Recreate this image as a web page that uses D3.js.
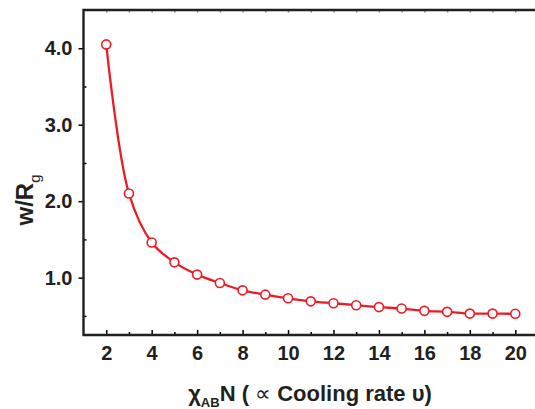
<!DOCTYPE html>
<html><head><meta charset="utf-8">
<script src="https://cdn.jsdelivr.net/npm/d3@7"></script>
<style>body{margin:0;background:#fff}svg{display:block}text{font-family:"Liberation Sans",Arial,sans-serif}</style>
</head><body>
<script>
const xValues = [2,3,4,5,6,7,8,9,10,11,12,13,14,15,16,17,18,19,20];
const yValues = [4.05,2.10,1.46,1.20,1.04,0.93,0.834,0.778,0.73,0.69,0.665,0.64,0.615,0.596,0.566,0.553,0.53,0.53,0.527];
const xMajorTicks = [2,4,6,8,10,12,14,16,18,20];
const xMinorTicks = [3,5,7,9,11,13,15,17,19];
const xTopTicks = [2,3,4,5,6,7,8,9,10,11,12,13,14,15,16,17,18,19,20];
const yMajorTicks = [1,2,3,4];
const yMinorTicks = [0.5,1.5,2.5,3.5];
const yTickLabels = ["1.0","2.0","3.0","4.0"];

const W = 535, H = 409;
const L = 83.5, R = 538, T = 10, B = 335;
const svg = d3.select("body").append("svg").attr("width", W).attr("height", H);
const x = d3.scaleLinear().domain([1,21]).range([L,R]);
const y = d3.scaleLinear().domain([0.25,4.5]).range([B,T]);
const red = "#ec1c24";
const ink = "#231f20";

// bottom axis major (inward) with labels
const gB = svg.append("g").attr("transform",`translate(0,${B})`)
  .call(d3.axisBottom(x).tickValues(xMajorTicks).tickSize(-5).tickPadding(11).tickFormat(d3.format("d")));
gB.selectAll("text").attr("font-size",20).attr("font-weight","bold").attr("fill",ink);
svg.append("g").attr("transform",`translate(0,${B})`)
  .call(d3.axisBottom(x).tickValues(xMinorTicks).tickSize(-3).tickFormat(""));
// top ticks
svg.append("g").attr("transform",`translate(0,${T})`)
  .call(d3.axisTop(x).tickValues(xTopTicks).tickSize(-2.5).tickFormat(""))
  .selectAll("line").attr("stroke","#888");
// left axis major outward
const gL = svg.append("g").attr("transform",`translate(${L},0)`)
  .call(d3.axisLeft(y).tickValues(yMajorTicks).tickSize(5).tickPadding(6).tickFormat((d,i)=>yTickLabels[i]));
gL.selectAll("text").attr("font-size",20).attr("font-weight","bold").attr("fill",ink);
svg.append("g").attr("transform",`translate(${L},0)`)
  .call(d3.axisRight(y).tickValues(yMinorTicks).tickSize(3).tickFormat(""));
svg.selectAll(".domain").remove();
svg.selectAll(".tick line").attr("stroke-width",1.5);

// frame lines
svg.append("path").attr("d",`M${R},${T}H${L}V${B}H${R}`).attr("fill","none").attr("stroke",ink).attr("stroke-width",2.4);

// data
const pts = xValues.map((d,i)=>[d,yValues[i]]);
svg.append("path").datum(pts)
  .attr("d", d3.line().x(d=>x(d[0])).y(d=>y(d[1])).curve(d3.curveCatmullRom.alpha(0.5)))
  .attr("fill","none").attr("stroke",red).attr("stroke-width",2.3);
svg.selectAll("circle.pt").data(pts).enter().append("circle")
  .attr("cx",d=>x(d[0])).attr("cy",d=>y(d[1])).attr("r",4.5)
  .attr("fill","#fff").attr("stroke",red).attr("stroke-width",1.6);

// y label
const yl = svg.append("text").attr("transform","translate(33,200) rotate(-90)")
  .attr("text-anchor","middle").attr("font-weight","bold").attr("font-size",24).attr("fill",ink);
yl.append("tspan").text("w/R");
yl.append("tspan").attr("font-size",15).attr("font-weight","normal").attr("dy",7).text("g");

// x label
const xl = svg.append("text").attr("x",310).attr("y",401)
  .attr("text-anchor","middle").attr("font-weight","bold").attr("font-size",22).attr("fill",ink);
xl.append("tspan").text("χ");
xl.append("tspan").attr("font-size",13).attr("dy",6).text("AB");
xl.append("tspan").attr("dy",-6).text("N ( ");
xl.append("tspan").attr("font-weight","normal").attr("font-size",22).text("∝");
xl.append("tspan").text(" Cooling rate υ)");
</script>
</body></html>
